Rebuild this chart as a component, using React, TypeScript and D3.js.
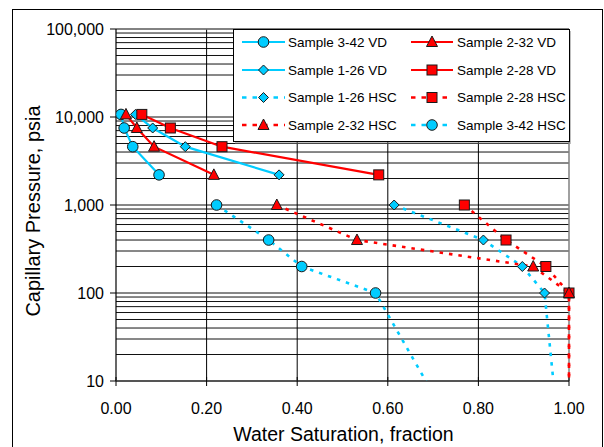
import React from "react";
import * as d3 from "d3";

// ---- data ----
const pcVD = [10700, 7500, 4600, 2200];
const pcHSC = [1000, 400, 200, 100, 1];

const sw342VD = [0.011, 0.018, 0.037, 0.095];
const sw232VD = [0.022, 0.046, 0.084, 0.216];
const sw126VD = [0.043, 0.081, 0.153, 0.36];
const sw228VD = [0.057, 0.12, 0.234, 0.58];

const sw126HSC = [0.614, 0.811, 0.897, 0.946, 0.985];
const sw228HSC = [0.769, 0.861, 0.949, 1.0, 1.0];
const sw232HSC = [0.355, 0.532, 0.921, 1.0, 1.0];
const sw342HSC = [0.222, 0.337, 0.41, 0.573, 0.795];

const seriesNames = [
  "Sample 3-42 VD",
  "Sample 2-32 VD",
  "Sample 1-26 VD",
  "Sample 2-28 VD",
  "Sample 1-26 HSC",
  "Sample 2-28 HSC",
  "Sample 2-32 HSC",
  "Sample 3-42 HSC",
];

const yTickValues = [10, 100, 1000, 10000, 100000];
const xTickValues = [0, 0.2, 0.4, 0.6, 0.8, 1.0];
const xTitle = "Water Saturation, fraction";
const yTitle = "Capillary Pressure, psia";

// ---- styles ----
const CYAN = "#00CCFF";
const RED = "#FF0000";
const FONT = "'Liberation Sans', Arial, sans-serif";

type Marker = "circle" | "diamond" | "square" | "triangle";
interface Series {
  name: string;
  sw: number[];
  pc: number[];
  color: string;
  marker: Marker;
  dashed: boolean;
}

const series: Series[] = [
  { name: seriesNames[0], sw: sw342VD, pc: pcVD, color: CYAN, marker: "circle", dashed: false },
  { name: seriesNames[1], sw: sw232VD, pc: pcVD, color: RED, marker: "triangle", dashed: false },
  { name: seriesNames[2], sw: sw126VD, pc: pcVD, color: CYAN, marker: "diamond", dashed: false },
  { name: seriesNames[3], sw: sw228VD, pc: pcVD, color: RED, marker: "square", dashed: false },
  { name: seriesNames[4], sw: sw126HSC, pc: pcHSC, color: CYAN, marker: "diamond", dashed: true },
  { name: seriesNames[5], sw: sw228HSC, pc: pcHSC, color: RED, marker: "square", dashed: true },
  { name: seriesNames[6], sw: sw232HSC, pc: pcHSC, color: RED, marker: "triangle", dashed: true },
  { name: seriesNames[7], sw: sw342HSC, pc: pcHSC, color: CYAN, marker: "circle", dashed: true },
];

const W = 604;
const H = 447;
const L = 116;
const R = 569;
const T = 29;
const B = 381;

const x = d3.scaleLinear().domain([0, 1]).range([L, R]);
const y = d3.scaleLog().domain([10, 100000]).range([B, T]);

function MarkerShape({ type, cx, cy, color }: { type: Marker; cx: number; cy: number; color: string }) {
  const stroke = "#1a1a1a";
  if (type === "circle") return <circle cx={cx} cy={cy} r={5.3} fill={color} stroke={stroke} strokeWidth={1} />;
  if (type === "square")
    return <rect x={cx - 5} y={cy - 5} width={10} height={10} fill={color} stroke={stroke} strokeWidth={1} />;
  if (type === "diamond") {
    const s = 5;
    return (
      <path
        d={`M${cx},${cy - s}L${cx + s},${cy}L${cx},${cy + s}L${cx - s},${cy}Z`}
        fill={color}
        stroke={stroke}
        strokeWidth={1}
      />
    );
  }
  const hw = 5.5;
  return (
    <path
      d={`M${cx},${cy - 6}L${cx + hw},${cy + 4.5}L${cx - hw},${cy + 4.5}Z`}
      fill={color}
      stroke={stroke}
      strokeWidth={1}
    />
  );
}

export default function App() {
  const line = d3
    .line<[number, number]>()
    .x((d) => x(d[0]))
    .y((d) => y(d[1]));

  // minor + major horizontal gridlines
  const hGrid: number[] = [];
  for (let dec = 10; dec < 100000; dec *= 10) {
    for (let m = 1; m <= 9; m++) hGrid.push(dec * m);
  }
  hGrid.push(100000);

  const legendRowsY = [42, 70, 97.5, 125];
  const legendCols = [
    { x1: 242, x2: 285, tx: 288 },
    { x1: 411, x2: 453, tx: 457 },
  ];

  return (
    <svg
      width={W}
      height={H}
      style={{ position: "absolute", left: 0, top: 0, background: "#fff" }}
      fontFamily={FONT}
    >
      <defs>
        <clipPath id="plotClip">
          <rect x={L} y={T - 8} width={R - L + 8} height={B - T + 8} />
        </clipPath>
        <clipPath id="plotClipLines">
          <rect x={L - 10} y={T} width={R - L + 20} height={B - T} />
        </clipPath>
      </defs>
      {/* outer frame */}
      <rect x={12.5} y={9.5} width={590} height={460} fill="#fff" stroke="#000" strokeWidth={1} />

      {/* horizontal gridlines */}
      {hGrid.map((v, i) => (
        <line key={"h" + i} x1={L} x2={R} y1={y(v)} y2={y(v)} stroke="#111" strokeWidth={1} />
      ))}
      {/* vertical gridlines */}
      {xTickValues
        .filter((v) => v > 0 && v < 1)
        .map((v, i) => (
          <line key={"v" + i} x1={x(v)} x2={x(v)} y1={T} y2={B} stroke="#000" strokeWidth={1} />
        ))}
      {/* plot border right/top */}
      <line x1={R} x2={R} y1={T} y2={B} stroke="#808080" strokeWidth={1.5} />
      <line x1={L} x2={R} y1={T} y2={T} stroke="#808080" strokeWidth={1.5} />

      {/* axes */}
      <line x1={L} x2={L} y1={T} y2={B} stroke="#000" strokeWidth={1.2} />
      <line x1={L} x2={R} y1={B} y2={B} stroke="#555" strokeWidth={2} />
      {yTickValues.map((v, i) => (
        <g key={"yt" + i}>
          <line x1={L - 6} x2={L} y1={y(v)} y2={y(v)} stroke="#000" strokeWidth={1} />
          <text x={104} y={y(v)} dy="0.36em" textAnchor="end" fontSize={16} fill="#000">
            {d3.format(",")(v)}
          </text>
        </g>
      ))}
      {xTickValues.map((v, i) => (
        <g key={"xt" + i}>
          <line x1={x(v)} x2={x(v)} y1={B - 4} y2={B + 5} stroke="#000" strokeWidth={1} />
          <text x={x(v)} y={414} textAnchor="middle" fontSize={16} fill="#000">
            {d3.format(".2f")(v)}
          </text>
        </g>
      ))}

      {/* series lines */}
      <g clipPath="url(#plotClipLines)">
        {series.map((s, i) => (
          <path
            key={"l" + i}
            d={line(s.sw.map((v, j) => [v, s.pc[j]] as [number, number])) || ""}
            fill="none"
            stroke={s.color}
            strokeWidth={s.dashed ? 2.6 : 2.2}
            strokeDasharray={s.dashed ? "3.5 6" : undefined}
          />
        ))}
      </g>
      {/* series markers */}
      <g clipPath="url(#plotClip)">
        {series.map((s, i) =>
          s.sw.map((v, j) =>
            s.pc[j] >= 10 ? (
              <MarkerShape key={"m" + i + "-" + j} type={s.marker} cx={x(v)} cy={y(s.pc[j])} color={s.color} />
            ) : null
          )
        )}
      </g>

      {/* legend */}
      <rect x={235} y={31} width={336} height={113} fill="#808080" opacity={0.5} />
      <rect x={233.5} y={29.5} width={336} height={112} fill="#fff" stroke="#000" strokeWidth={1} />
      {series.map((s, i) => {
        const col = legendCols[i % 2];
        const ry = legendRowsY[Math.floor(i / 2)];
        const mx = (col.x1 + col.x2) / 2;
        return (
          <g key={"lg" + i}>
            <line
              x1={col.x1}
              x2={col.x2}
              y1={ry}
              y2={ry}
              stroke={s.color}
              strokeWidth={s.dashed ? 2.6 : 2.2}
              strokeDasharray={s.dashed ? "4.5 6" : undefined}
            />
            <MarkerShape type={s.marker} cx={mx} cy={ry} color={s.color} />
            <text x={col.tx} y={ry} dy="0.36em" fontSize={13.5} fill="#000">
              {s.name}
            </text>
          </g>
        );
      })}

      {/* axis titles */}
      <text x={(L + R) / 2 + 1} y={441} textAnchor="middle" fontSize={19.5} fill="#000">
        {xTitle}
      </text>
      <text
        transform={`translate(40, 211) rotate(-90)`}
        textAnchor="middle"
        fontSize={20}
        fill="#000"
      >
        {yTitle}
      </text>
    </svg>
  );
}
